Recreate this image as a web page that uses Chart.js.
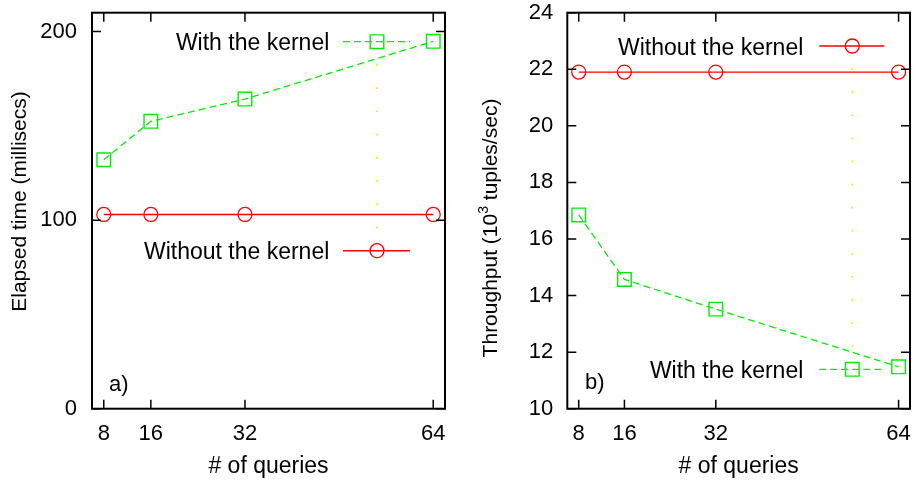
<!DOCTYPE html>
<html>
<head>
<meta charset="utf-8">
<script src="https://cdn.jsdelivr.net/npm/chart.js@4.4.1/dist/chart.umd.min.js"></script>
<style>
  html, body { margin: 0; padding: 0; background: #ffffff; }
  #wrap { position: relative; width: 921px; height: 485px; overflow: hidden; }
  canvas { position: absolute; top: 0; }
</style>
</head>
<body>
<div id="wrap">
  <canvas id="cA" width="460" height="485" style="left:0px"></canvas>
  <canvas id="cB" width="461" height="485" style="left:460px"></canvas>
</div>
<script>
// ---- data ----
const queries = [8, 16, 32, 64];
const xTickLabels = [8, 16, 32, 64];

const elapsedWithKernel = [132, 152.4, 164.2, 194.8];
const elapsedWithoutKernel = [103, 103, 103, 103];
const elapsedTicks = [0, 100, 200];

const throughputWithoutKernel = [21.9, 21.9, 21.9, 21.9];
const throughputWithKernel = [16.85, 14.57, 13.52, 11.48];
const throughputTicks = [10, 12, 14, 16, 18, 20, 22, 24];

const labelWith = 'With the kernel';
const labelWithout = 'Without the kernel';

// ---- styles ----
const FONT = '"Liberation Sans", Arial, Helvetica, sans-serif';
const RED = '#ff0000';
const GREEN = '#00ee00';

function pts(xs, ys) { return xs.map((x, i) => ({ x: x, y: ys[i] })); }

function withDs(data) {
  return {
    label: labelWith, data: data,
    borderColor: GREEN, backgroundColor: 'rgba(0,0,0,0)',
    borderWidth: 1.3, borderDash: [7, 4],
    pointStyle: 'rect', pointRadius: 9.6, pointBorderWidth: 1.4,
    pointBorderColor: GREEN, pointBackgroundColor: 'rgba(0,0,0,0)',
    tension: 0
  };
}
function withoutDs(data) {
  return {
    label: labelWithout, data: data,
    borderColor: RED, backgroundColor: 'rgba(0,0,0,0)',
    borderWidth: 1.4, borderDash: [],
    pointStyle: 'circle', pointRadius: 7, pointBorderWidth: 1.3,
    pointBorderColor: RED, pointBackgroundColor: 'rgba(0,0,0,0)',
    tension: 0
  };
}

function drawMarker(ctx, ds, x, y) {
  ctx.save();
  ctx.setLineDash([]);
  ctx.strokeStyle = ds.pointBorderColor;
  ctx.lineWidth = ds.pointBorderWidth;
  ctx.beginPath();
  if (ds.pointStyle === 'rect') {
    const s = Math.SQRT1_2 * ds.pointRadius;
    ctx.rect(x - s, y - s, 2 * s, 2 * s);
  } else {
    ctx.arc(x, y, ds.pointRadius, 0, Math.PI * 2);
  }
  ctx.stroke();
  ctx.restore();
}

const decorPlugin = {
  id: 'decor',
  afterDraw(chart, args, o) {
    const ctx = chart.ctx;
    const a = chart.chartArea;
    const xs = chart.scales.x, ys = chart.scales.y;
    ctx.save();
    // inward ticks (mirrored)
    ctx.strokeStyle = '#000';
    ctx.lineWidth = 1.5;
    ctx.setLineDash([]);
    const TL = 9;
    ctx.beginPath();
    o.xTicks.forEach(v => {
      const px = xs.getPixelForValue(v);
      ctx.moveTo(px, a.bottom); ctx.lineTo(px, a.bottom - TL);
      ctx.moveTo(px, a.top); ctx.lineTo(px, a.top + TL);
    });
    o.yTicks.forEach(v => {
      const py = ys.getPixelForValue(v);
      ctx.moveTo(a.left, py); ctx.lineTo(a.left + TL, py);
      ctx.moveTo(a.right, py); ctx.lineTo(a.right - TL, py);
    });
    ctx.stroke();
    // frame
    ctx.lineWidth = 2;
    ctx.strokeRect(a.left, a.top, a.right - a.left, a.bottom - a.top);

    // yellow dotted connector between legend markers
    const e0 = o.legend[0], e1 = o.legend[1];
    ctx.fillStyle = '#f2f200';
    const dist = e1.y - e0.y;
    const n = Math.round(Math.abs(dist) / 23.1);
    for (let k = 1; k < n; k++) {
      const yy = e0.y + dist * k / n;
      ctx.fillRect(o.legMarkX - 1, yy - 0.8, 2, 1.6);
    }

    // legend (gnuplot style)
    o.legend.forEach(e => {
      const ds = chart.data.datasets[e.ds];
      ctx.font = '23px ' + FONT;
      ctx.fillStyle = '#000';
      ctx.textAlign = 'right';
      ctx.textBaseline = 'alphabetic';
      ctx.fillText(ds.label, o.legTextRight, e.y + 8.5);
      ctx.strokeStyle = ds.borderColor;
      ctx.lineWidth = ds.borderWidth;
      ctx.setLineDash(ds.borderDash || []);
      ctx.beginPath();
      ctx.moveTo(o.legLine[0], e.y);
      ctx.lineTo(o.legLine[1], e.y);
      ctx.stroke();
      ctx.setLineDash([]);
      drawMarker(ctx, ds, o.legMarkX, e.y);
    });

    // panel label
    ctx.font = '22px ' + FONT;
    ctx.fillStyle = '#000';
    ctx.textAlign = 'left';
    ctx.textBaseline = 'alphabetic';
    ctx.fillText(o.panel, o.panelX, o.panelY);

    // x title
    ctx.font = '23px ' + FONT;
    ctx.textAlign = 'center';
    ctx.fillText('# of queries', (a.left + a.right) / 2, 473);

    // y title (rotated), with optional superscript part
    ctx.translate(o.yTitleX, o.yTitleY);
    ctx.rotate(-Math.PI / 2);
    const base = '21px ' + FONT, sup = '14px ' + FONT;
    const parts = o.yTitle;
    let total = 0;
    parts.forEach(p => { ctx.font = p.sup ? sup : base; total += ctx.measureText(p.t).width; });
    let cx = -total / 2;
    ctx.textAlign = 'left';
    parts.forEach(p => {
      ctx.font = p.sup ? sup : base;
      ctx.fillText(p.t, cx, p.sup ? -9 : 0);
      cx += ctx.measureText(p.t).width;
    });
    ctx.restore();
  }
};

function makeChart(id, cfg) {
  return new Chart(document.getElementById(id), {
    type: 'line',
    data: { datasets: cfg.datasets },
    options: {
      responsive: false,
      animation: false,
      devicePixelRatio: 1,
      layout: { padding: cfg.padding },
      plugins: {
        legend: { display: false },
        tooltip: { enabled: false },
        decor: cfg.decor
      },
      scales: {
        x: {
          type: 'linear', min: 6, max: 66,
          border: { display: false },
          grid: { display: false, drawTicks: false },
          afterBuildTicks: s => { s.ticks = xTickLabels.map(v => ({ value: v })); },
          afterFit: s => { s.height = 76.3; s.paddingLeft = 0; s.paddingRight = 0; },
          ticks: { padding: 12, color: '#000', font: { family: FONT, size: 22 }, maxRotation: 0, autoSkip: false }
        },
        y: {
          type: 'linear', min: cfg.ymin, max: cfg.ymax,
          border: { display: false },
          grid: { display: false, drawTicks: false },
          afterBuildTicks: s => { s.ticks = cfg.yTicks.map(v => ({ value: v })); },
          afterFit: s => { s.width = cfg.yWidth; s.paddingTop = 0; s.paddingBottom = 0; },
          ticks: { padding: cfg.yPad, color: '#000', font: { family: FONT, size: 22 }, autoSkip: false }
        }
      }
    },
    plugins: [decorPlugin]
  });
}

makeChart('cA', {
  datasets: [withDs(pts(queries, elapsedWithKernel)), withoutDs(pts(queries, elapsedWithoutKernel))],
  padding: { top: 12.7, right: 15, left: 0, bottom: 0 },
  ymin: 0, ymax: 210, yTicks: elapsedTicks, yWidth: 92, yPad: 15,
  decor: {
    xTicks: xTickLabels, yTicks: elapsedTicks,
    legend: [{ ds: 0, y: 41.7 }, { ds: 1, y: 250.7 }],
    legTextRight: 329.3, legLine: [343, 410], legMarkX: 377,
    panel: 'a)', panelX: 109, panelY: 391,
    yTitleX: 26, yTitleY: 201.5,
    yTitle: [{ t: 'Elapsed time (millisecs)' }]
  }
});

makeChart('cB', {
  datasets: [withoutDs(pts(queries, throughputWithoutKernel)), withDs(pts(queries, throughputWithKernel))],
  padding: { top: 12.7, right: 6.7, left: 0, bottom: 0 },
  ymin: 10, ymax: 24, yTicks: throughputTicks, yWidth: 107.3, yPad: 14,
  decor: {
    xTicks: xTickLabels, yTicks: throughputTicks,
    legend: [{ ds: 0, y: 46 }, { ds: 1, y: 369.3 }],
    legTextRight: 343.3, legLine: [359.3, 424.3], legMarkX: 392.3,
    panel: 'b)', panelX: 125, panelY: 389,
    yTitleX: 37, yTitleY: 228,
    yTitle: [{ t: 'Throughput (10' }, { t: '3', sup: true }, { t: ' tuples/sec)' }]
  }
});
</script>
</body>
</html>
